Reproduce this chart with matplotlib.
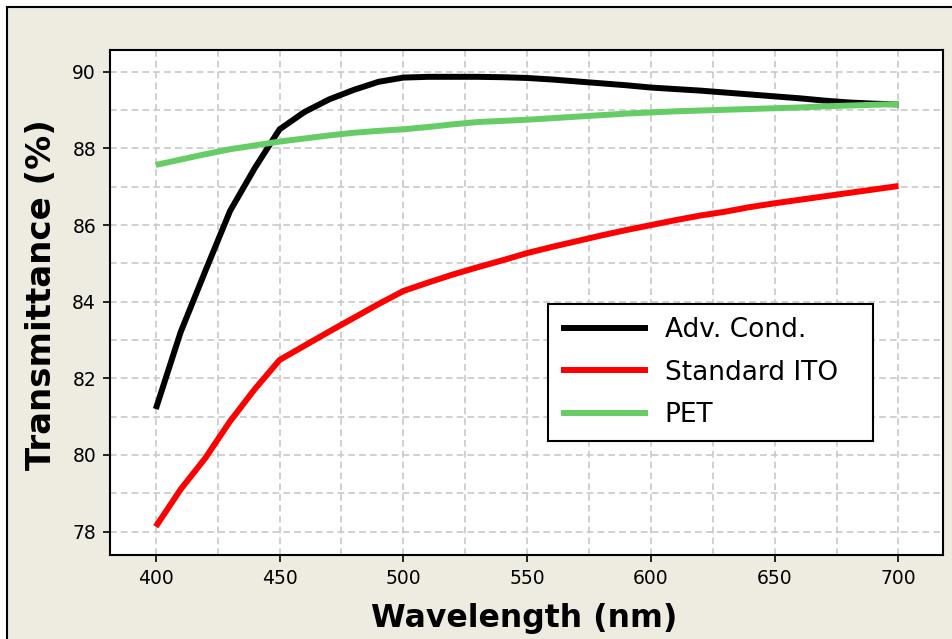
import matplotlib
matplotlib.use('Agg')
import matplotlib.pyplot as plt
from matplotlib.patches import Rectangle
from matplotlib.ticker import MultipleLocator

# wavelength (nm)
wl = [400, 410, 420, 430, 440, 450, 460, 470, 480, 490, 500,
      510, 520, 530, 540, 550, 560, 570, 580, 590, 600,
      610, 620, 630, 640, 650, 660, 670, 680, 690, 700]

adv_cond = [81.2, 83.2, 84.8, 86.37, 87.49, 88.5, 88.95, 89.28, 89.53, 89.74, 89.85,
            89.87, 89.87, 89.87, 89.86, 89.84, 89.8, 89.75, 89.7, 89.65, 89.59,
            89.55, 89.51, 89.46, 89.41, 89.36, 89.31, 89.25, 89.2, 89.17, 89.15]

std_ito = [78.13, 79.1, 79.92, 80.88, 81.72, 82.48, 82.85, 83.22, 83.58, 83.94, 84.28,
           84.5, 84.71, 84.9, 85.08, 85.27, 85.43, 85.58, 85.73, 85.87, 86.0,
           86.13, 86.25, 86.35, 86.47, 86.57, 86.66, 86.75, 86.84, 86.93, 87.02]

pet = [87.57, 87.71, 87.85, 87.98, 88.08, 88.18, 88.26, 88.34, 88.41, 88.46, 88.5,
       88.56, 88.63, 88.69, 88.72, 88.75, 88.79, 88.83, 88.87, 88.91, 88.94,
       88.97, 88.99, 89.01, 89.03, 89.05, 89.07, 89.1, 89.12, 89.14, 89.16]

labels = ['Adv. Cond.', 'Standard ITO', 'PET']
colors = ['black', '#ff0000', '#66cc66']

W, H = 952, 639
fig = plt.figure(figsize=(W / 100, H / 100), dpi=100, facecolor='white')

# beige panel with black border
fig.patches.append(Rectangle((7 / W, -0.1), 1.2, (H - 7) / H + 0.1, transform=fig.transFigure,
                             facecolor='#eeebe0', edgecolor='black', lw=1.5, zorder=-5))

ax = fig.add_axes([110 / W, (H - 555) / H, 833 / W, 505 / H])
ax.set_facecolor('white')

for y, lab, c in zip([adv_cond, std_ito, pet], labels, colors):
    ax.plot(wl, y, color=c, lw=4.3, label=lab, solid_capstyle='butt')

ax.set_xlim(381.5, 718)
ax.set_ylim(77.39, 90.57)
ax.xaxis.set_major_locator(MultipleLocator(50))
ax.xaxis.set_minor_locator(MultipleLocator(25))
ax.yaxis.set_major_locator(MultipleLocator(2))
ax.yaxis.set_minor_locator(MultipleLocator(1))

ax.grid(True, which='both', color='#c8c8c8', lw=1.2, ls=(0, (4, 2.5)))
ax.set_axisbelow(True)

ax.tick_params(which='major', direction='out', length=5, width=1.2, labelsize=13.5, pad=5)
ax.tick_params(which='minor', length=0)
for s in ax.spines.values():
    s.set_linewidth(1.5)

ax.set_xlabel('Wavelength (nm)', fontsize=22.7, fontweight='bold')
ax.set_ylabel('Transmittance (%)', fontsize=24.5, fontweight='bold')
ax.xaxis.set_label_coords(0.497, -0.095)
ax.yaxis.set_label_coords(-0.063, 0.515)

leg = ax.legend(loc='upper left', bbox_to_anchor=(0.526, 0.224, 0.39, 0.273), mode='expand',
                borderaxespad=0, fontsize=19, handlelength=3.3, handletextpad=0.62,
                labelspacing=0.62, fancybox=False, framealpha=1, edgecolor='black',
                borderpad=0.5)
leg.get_frame().set_linewidth(1.5)
for h in leg.get_lines():
    h.set_linewidth(4.3)

fig.savefig('out.png', dpi=100, facecolor=fig.get_facecolor())
